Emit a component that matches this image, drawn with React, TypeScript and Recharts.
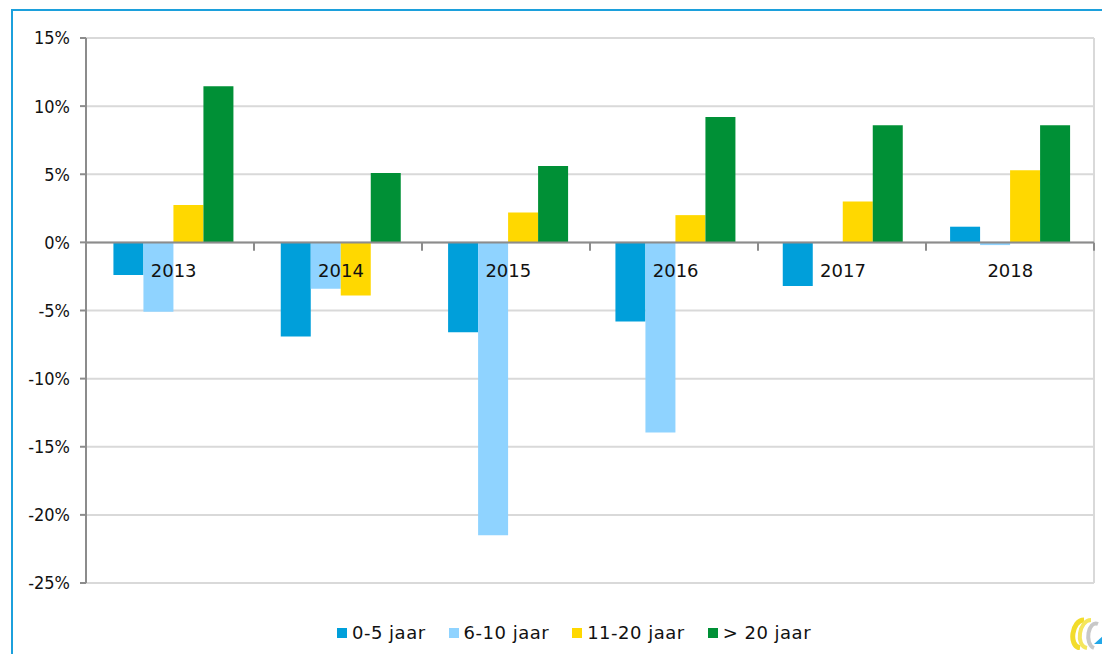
// Jaarlijkse verandering per leeftijdsklasse, 2013-2018.
import { Bar, BarChart, CartesianGrid, ReferenceLine, XAxis, YAxis } from "recharts";

const years = ["2013", "2014", "2015", "2016", "2017", "2018"];
const age0to5 = [-2.4, -6.9, -6.6, -5.8, -3.2, 1.15];
const age6to10 = [-5.1, -3.4, -21.5, -13.95, 0, -0.2];
const age11to20 = [2.75, -3.9, 2.2, 2.0, 3.0, 5.3];
const age20plus = [11.45, 5.1, 5.6, 9.2, 8.6, 8.6];
const yTicks = [-25, -20, -15, -10, -5, 0, 5, 10, 15];

const series = [
  { key: "a", name: "0-5 jaar", color: "#009fda" },
  { key: "b", name: "6-10 jaar", color: "#8fd3ff" },
  { key: "c", name: "11-20 jaar", color: "#ffd800" },
  { key: "d", name: "> 20 jaar", color: "#009036" },
];

const data = years.map((year, i) => ({
  year,
  a: age0to5[i],
  b: age6to10[i],
  c: age11to20[i],
  d: age20plus[i],
}));

const W = 1110;
const H = 662;
const M = { top: 38, right: 16, left: 0, bottom: 78 };
const PLOT_LEFT = 86;
const PLOT_H = H - M.top - M.bottom;
const ZERO_Y = M.top + (PLOT_H * 15) / 40;
const BAND = (W - M.right - PLOT_LEFT) / years.length;
const FONT = "'DejaVu Sans', Verdana, sans-serif";

// category separators on the zero line, labels just below it
function YearTick({ x, index, payload }: any) {
  const right = PLOT_LEFT + BAND * (index + 1);
  const left = PLOT_LEFT + BAND * index;
  return (
    <g>
      {index === 0 && <line x1={left} x2={left} y1={ZERO_Y} y2={ZERO_Y + 8} stroke="#8c8c8c" strokeWidth={2} />}
      <line x1={right} x2={right} y1={ZERO_Y} y2={ZERO_Y + 8} stroke="#8c8c8c" strokeWidth={2} />
      <text x={x} y={ZERO_Y + 34} textAnchor="middle" fontSize={18} fontFamily={FONT} fill="#111">
        {payload.value}
      </text>
    </g>
  );
}

function LegendRow() {
  return (
    <div
      style={{
        position: "absolute",
        top: 622,
        left: 337,
        display: "flex",
        gap: 23,
        fontFamily: FONT,
        fontSize: 18,
        letterSpacing: 0.5,
        color: "#111",
        whiteSpace: "nowrap",
      }}
    >
      {series.map((s) => (
        <div key={s.key} style={{ display: "flex", alignItems: "center", gap: 5 }}>
          <span style={{ width: 10, height: 10, background: s.color, display: "inline-block" }} />
          <span>{s.name}</span>
        </div>
      ))}
    </div>
  );
}

function Logo() {
  return (
    <svg width={42} height={34} style={{ position: "absolute", left: 1064, top: 616 }}>
      <path d="M20 4 C8 4 4 30 16 32" stroke="#f2dc2a" strokeWidth={5} fill="none" />
      <path d="M27 4 C15 4 11 30 23 32" stroke="#f5e65c" strokeWidth={4} fill="none" />
      <path d="M34 8 C24 4 20 28 30 32" stroke="#c8c8c8" strokeWidth={4} fill="none" />
      <path d="M30 28 L40 19 L40 28 Z" fill="#22a7e8" />
    </svg>
  );
}

export default function App() {
  return (
    <div style={{ position: "relative", margin: -8, width: W, height: H, overflow: "hidden", background: "#fff" }}>
      <div
        style={{
          position: "absolute",
          left: 11,
          top: 9,
          width: 1200,
          height: 800,
          borderLeft: "2px solid #1ca0dc",
          borderTop: "2px solid #1ca0dc",
        }}
      />
      <div style={{ position: "absolute", left: 0, top: 0 }}>
        <BarChart width={W} height={H} data={data} margin={M} barCategoryGap="14%" barGap={0}>
          <CartesianGrid vertical={false} stroke="#d9d9d9" strokeWidth={2} />
          <CartesianGrid horizontal={false} verticalPoints={[W - M.right]} stroke="#d9d9d9" strokeWidth={2} />
          <XAxis
            dataKey="year"
            axisLine={false}
            tickLine={false}
            tick={<YearTick />}
            interval={0}
            height={1}
            padding={{ left: 4, right: 0 }}
          />
          <YAxis
            width={PLOT_LEFT}
            domain={[-25, 15]}
            ticks={yTicks}
            tickFormatter={(v) => `${v}%`}
            axisLine={{ stroke: "#8c8c8c", strokeWidth: 2 }}
            tickLine={{ stroke: "#8c8c8c", strokeWidth: 2 }}
            tickSize={6}
            tickMargin={10}
            tick={{ fill: "#111", fontSize: 18, fontFamily: "'DejaVu Sans Condensed', 'Liberation Sans Narrow', sans-serif" }}
          />
          {series.map((s) => (
            <Bar key={s.key} dataKey={s.key} name={s.name} fill={s.color} isAnimationActive={false} />
          ))}
          <ReferenceLine y={0} stroke="#8c8c8c" strokeWidth={2} />
        </BarChart>
      </div>
      <LegendRow />
      <Logo />
    </div>
  );
}
